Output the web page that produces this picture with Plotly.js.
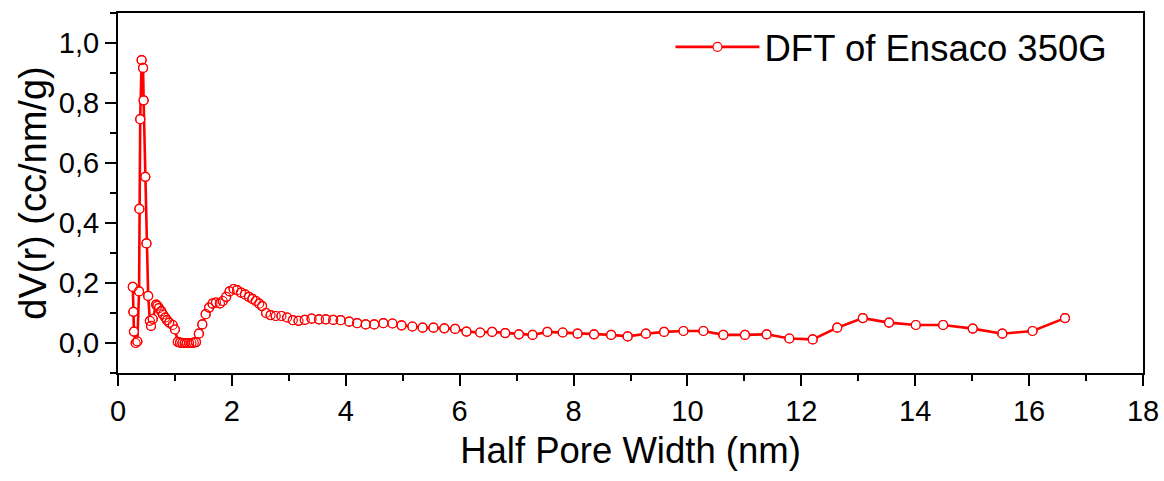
<!DOCTYPE html>
<html>
<head>
<meta charset="utf-8">
<script src="https://cdn.plot.ly/plotly-3.0.1.min.js"></script>
<style>html,body{margin:0;padding:0;background:#fff;}#chart{width:1164px;height:481px;}</style>
</head>
<body>
<div id="chart"></div>
<script>
// Half pore width (nm)
const halfPoreWidth = [
  0.26, 0.27, 0.28, 0.31, 0.34, 0.37, 0.375, 0.39, 0.415, 0.44, 0.45, 0.48, 0.50, 0.53, 0.56, 0.58, 0.61,
  0.67, 0.69, 0.72, 0.76, 0.79, 0.83, 0.86, 0.90, 0.96, 1.00,
  1.05, 1.09, 1.13, 1.17, 1.21, 1.25, 1.29, 1.33, 1.37,
  1.42, 1.48, 1.54, 1.60, 1.66, 1.72, 1.79, 1.84, 1.90, 1.96, 2.03, 2.09, 2.16, 2.23, 2.30, 2.36, 2.42, 2.48, 2.53,
  2.60, 2.68, 2.77, 2.87, 2.97, 3.07, 3.17, 3.28, 3.40, 3.53, 3.65, 3.78, 3.91, 4.06, 4.20, 4.35, 4.50, 4.66, 4.82, 4.98,
  5.17, 5.35, 5.54, 5.73, 5.92, 6.12, 6.36, 6.57, 6.80, 7.04, 7.28, 7.54, 7.81, 8.07, 8.36, 8.66, 8.95, 9.27, 9.59, 9.93,
  10.28, 10.63, 11.01, 11.39, 11.79, 12.20, 12.63, 13.08, 13.54, 14.01, 14.49, 15.01, 15.53, 16.06, 16.63
];
// dV(r) (cc/nm/g)
const dV = [
  0.187, 0.104, 0.038, 0.000, 0.005, 0.172, 0.447, 0.746, 0.943, 0.917, 0.809, 0.554, 0.332, 0.157, 0.074, 0.057, 0.080,
  0.128, 0.124, 0.116, 0.106, 0.095, 0.085, 0.076, 0.068, 0.060, 0.045,
  0.004, 0.001, 0.000, 0.000, 0.000, 0.000, 0.000, 0.001, 0.003,
  0.031, 0.062, 0.096, 0.118, 0.131, 0.135, 0.132, 0.140, 0.154, 0.172, 0.180, 0.176, 0.168, 0.162, 0.154, 0.147, 0.140, 0.131, 0.123,
  0.100, 0.093, 0.090, 0.090, 0.085, 0.076, 0.074, 0.077, 0.081, 0.079, 0.079, 0.077, 0.076, 0.071, 0.066, 0.062, 0.062, 0.066, 0.065, 0.059,
  0.055, 0.051, 0.051, 0.049, 0.047, 0.038, 0.035, 0.037, 0.033, 0.029, 0.027, 0.037, 0.035, 0.031, 0.029, 0.027, 0.022, 0.031, 0.037, 0.040,
  0.040, 0.027, 0.027, 0.029, 0.015, 0.012, 0.051, 0.083, 0.068, 0.060, 0.060, 0.048, 0.031, 0.040, 0.083
];
const seriesName = "DFT of Ensaco 350G";
const xTitle = "Half Pore Width (nm)";
const yTitle = "dV(r) (cc/nm/g)";

const RED = "#ff0000";
const FONT = "Liberation Sans, Arial, sans-serif";

const traces = [
  {
    x: halfPoreWidth, y: dV, name: seriesName, type: "scatter", mode: "lines+markers",
    line: {color: RED, width: 2.6},
    marker: {symbol: "circle", size: 9, color: "#ffffff", line: {color: RED, width: 1.2}},
    cliponaxis: false
  },
  {
    x: halfPoreWidth, y: dV, type: "scatter", mode: "markers", showlegend: false,
    marker: {symbol: "circle-open", size: 9, color: RED, line: {color: RED, width: 1.2}},
    cliponaxis: false
  }
];

const axisCommon = {
  showgrid: false, zeroline: false,
  showline: true, linecolor: "#000", linewidth: 2, mirror: true,
  ticks: "outside", ticklen: 11, tickwidth: 2, tickcolor: "#000",
  tickfont: {family: FONT, size: 29, color: "#000"}
};

const layout = {
  width: 1164, height: 481,
  margin: {l: 118, r: 21, t: 13, b: 108},
  paper_bgcolor: "#fff", plot_bgcolor: "#fff",
  separators: ",.",
  font: {family: FONT, color: "#000"},
  showlegend: true,
  legend: {
    x: 0.539, y: 0.99, xanchor: "left", yanchor: "top",
    bgcolor: "rgba(0,0,0,0)", borderwidth: 0,
    itemwidth: 84,
    font: {family: FONT, size: 36.5, color: "#000"}
  },
  xaxis: Object.assign({}, axisCommon, {
    range: [0, 18], tick0: 0, dtick: 2,
    minor: {ticks: "outside", ticklen: 6, tickwidth: 2, tickcolor: "#000", dtick: 1, tick0: 0},
    title: {text: xTitle, font: {family: FONT, size: 36.5, color: "#000"}, standoff: 12}
  }),
  yaxis: Object.assign({}, axisCommon, {
    range: [-0.1, 1.1], tick0: 0, dtick: 0.2, tickformat: ".1f",
    minor: {ticks: "outside", ticklen: 6, tickwidth: 2, tickcolor: "#000", dtick: 0.1, tick0: 0},
    title: {text: yTitle, font: {family: FONT, size: 38, color: "#000"}, standoff: 1}
  })
};

Plotly.newPlot("chart", traces, layout, {displayModeBar: false, staticPlot: true});
</script>
</body>
</html>
